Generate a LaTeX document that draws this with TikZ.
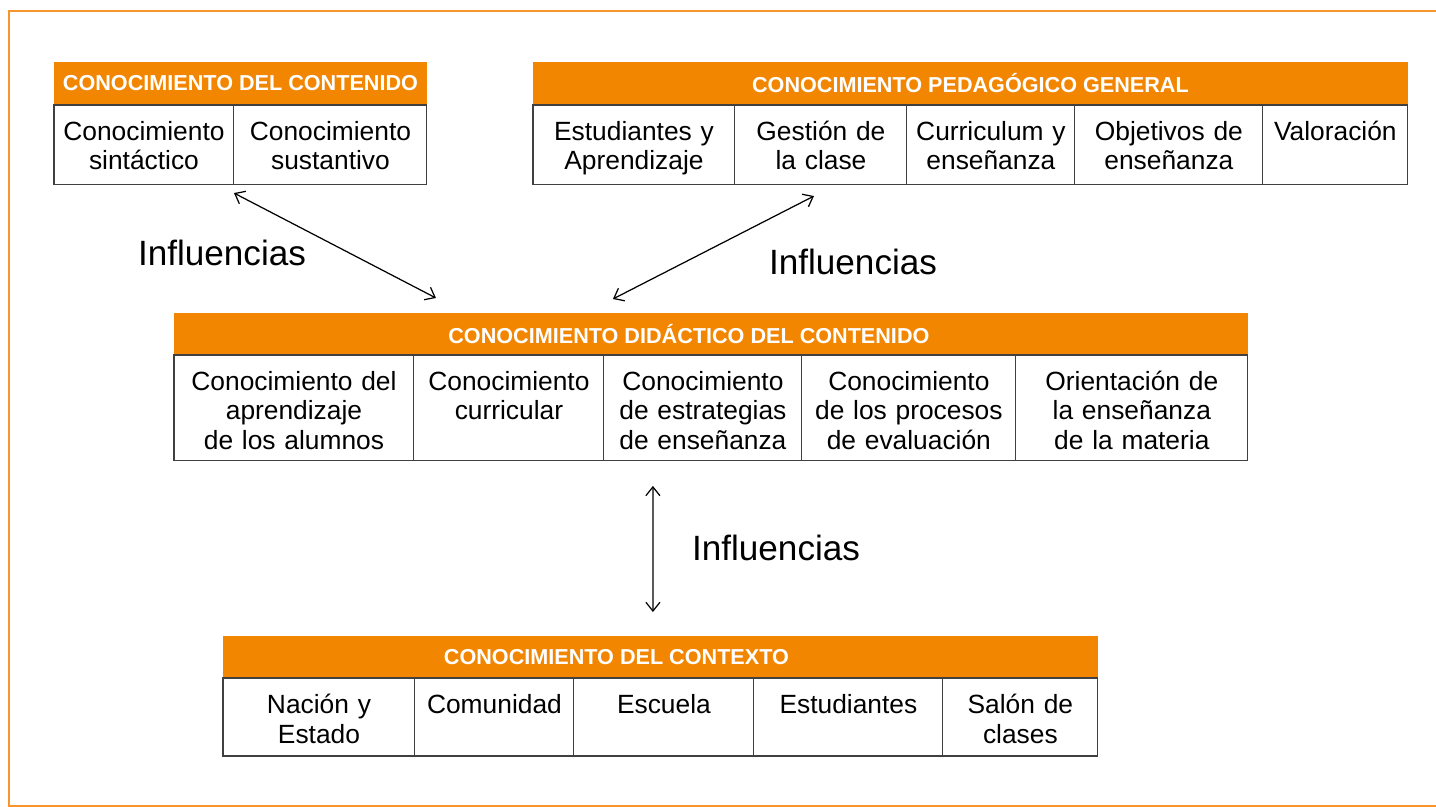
\documentclass[tikz,border=0pt]{standalone}
\usepackage{fontspec}
\setmainfont{Liberation Sans}
\usetikzlibrary{positioning, arrows.meta}

\definecolor{headorange}{RGB}{242,134,0}
\definecolor{frameorange}{RGB}{247,150,45}

\tikzset{
    head/.style={fill=headorange, minimum width=#1, minimum height=0.84cm, inner sep=0pt, outer sep=0pt, anchor=north west},
    headtext/.style={text=white, font=\bfseries\fontsize{12.3}{14}\selectfont},
    cell/.style 2 args={draw=black!75, line width=0.6pt, text width=#1, align=center, inner sep=0pt, outer sep=0pt,
        text height=20pt, text depth=#2, font=\fontsize{15}{17}\selectfont},
    infl/.style={font=\fontsize{20}{24}\selectfont},
    conn/.style={<->, >={Straight Barb[length=5pt, width=8pt]}, line width=0.7pt},
}

\begin{document}
\begin{tikzpicture}[x=0.02cm, y=-0.02cm]
        \useasboundingbox (0,0) rectangle (1436,807);
        \draw[frameorange, line width=1pt] (1436,11) -- (9,11) -- (9,806) -- (1436,806);

        % contenido
        \node[head=7.46cm, minimum height=0.86cm, label={[headtext]center:CONOCIMIENTO DEL CONTENIDO}] (contenido) at (54,62) {};
        \node[cell={3.6cm}{25pt}, below right=0pt of contenido.south west]  (cont 1) {Conocimiento\\sintáctico};
        \node[cell={3.86cm}{25pt}, right=0pt of cont 1]                      (cont 2) {Conocimiento\\sustantivo};

        % pedagogico general
        \node[head=17.5cm, minimum height=0.86cm, label={[headtext]center:CONOCIMIENTO PEDAGÓGICO GENERAL}] (pedagogico) at (533,62) {};
        \node[cell={4.04cm}{25pt}, below right=0pt of pedagogico.south west] (ped 1) {Estudiantes y\\Aprendizaje};
        \node[cell={3.44cm}{25pt}, right=0pt of ped 1]                       (ped 2) {Gestión de\\la clase};
        \node[cell={3.36cm}{25pt}, right=0pt of ped 2]                       (ped 3) {Curriculum y\\enseñanza};
        \node[cell={3.76cm}{25pt}, right=0pt of ped 3]                       (ped 4) {Objetivos de\\enseñanza};
        \node[cell={2.9cm}{25pt}, right=0pt of ped 4]                        (ped 5) {Valoración};

        % didactico del contenido
        \node[head=21.48cm, label={[headtext, xshift=-0.44cm]center:CONOCIMIENTO DIDÁCTICO DEL CONTENIDO}] (didactico) at (174,313) {};
        \node[cell={4.8cm}{40.3pt}, below right=0pt of didactico.south west] (did 1) {Conocimiento del\\aprendizaje\\de los alumnos};
        \node[cell={3.8cm}{40.3pt}, right=0pt of did 1]                      (did 2) {Conocimiento\\curricular};
        \node[cell={3.96cm}{40.3pt}, right=0pt of did 2]                     (did 3) {Conocimiento\\de estrategias\\de enseñanza};
        \node[cell={4.28cm}{40.3pt}, right=0pt of did 3]                     (did 4) {Conocimiento\\de los procesos\\de evaluación};
        \node[cell={4.64cm}{40.3pt}, right=0pt of did 4]                     (did 5) {Orientación de\\la enseñanza\\de la materia};

        % contexto
        \node[head=17.5cm, label={[headtext, xshift=-0.88cm]center:CONOCIMIENTO DEL CONTEXTO}] (contexto) at (223,636) {};
        \node[cell={3.84cm}{24.4pt}, below right=0pt of contexto.south west] (ctx 1) {Nación y\\Estado};
        \node[cell={3.18cm}{24.4pt}, right=0pt of ctx 1]                     (ctx 2) {Comunidad};
        \node[cell={3.6cm}{24.4pt}, right=0pt of ctx 2]                      (ctx 3) {Escuela};
        \node[cell={3.78cm}{24.4pt}, right=0pt of ctx 3]                     (ctx 4) {Estudiantes};
        \node[cell={3.1cm}{24.4pt}, right=0pt of ctx 4]                      (ctx 5) {Salón de\\clases};

        \node[infl] (infl 1) at (222,253) {Influencias};
        \node[infl] (infl 2) at (853,262) {Influencias};
        \node[infl] (infl 3) at (776,548) {Influencias};

        \draw[conn] ([yshift=-0.18cm]cont 1.south east) -- ([xshift=5.24cm, yshift=0.3cm]didactico.north west);
        \draw[conn] ([xshift=-0.14cm, yshift=-0.24cm]ped 2.south) -- ([xshift=8.78cm, yshift=0.28cm]didactico.north west);
        \draw[conn] ([xshift=0.98cm, yshift=-0.5cm]did 3.south west) -- ([xshift=8.6cm, yshift=0.48cm]contexto.north west);
    \end{tikzpicture}
\end{document}
